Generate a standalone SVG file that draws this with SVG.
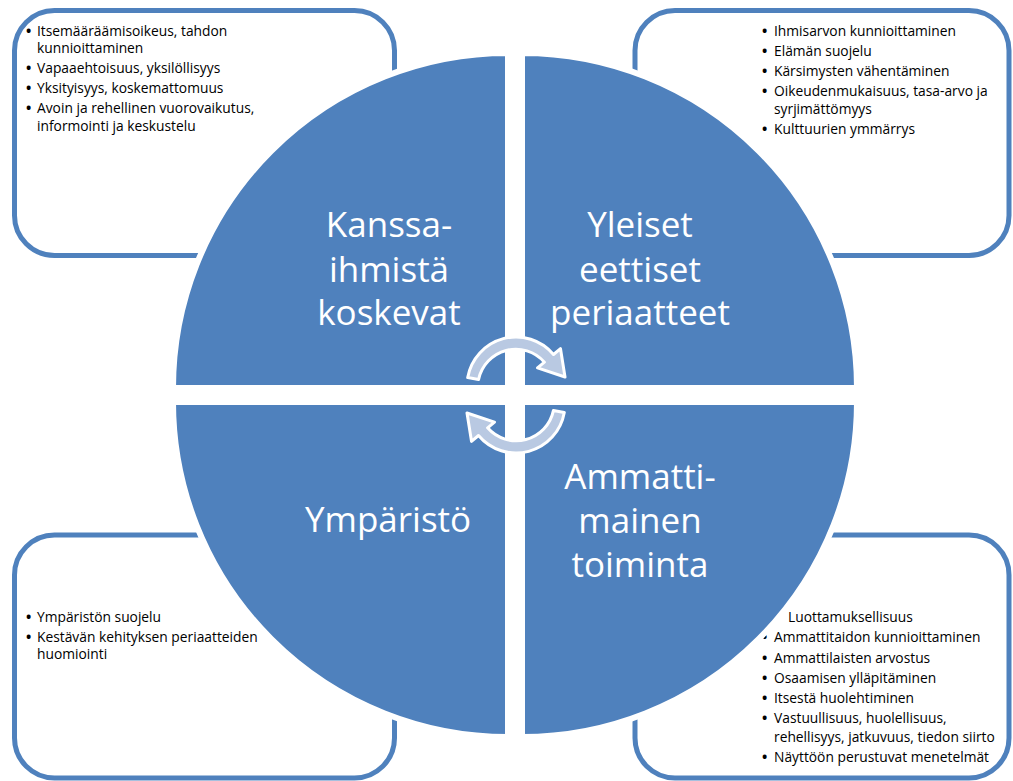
<svg xmlns="http://www.w3.org/2000/svg" width="1013" height="781" viewBox="0 0 1013 781">
<style>
.box{fill:#fff;stroke:#4F81BD;stroke-width:5}
.q{fill:#4F81BD;stroke:#fff;stroke-width:6}
.t{font-family:"Open Sans","Liberation Sans",sans-serif;font-size:13.8px;fill:#000}
.b{font-weight:bold;font-size:14px}
.big{font-family:"Open Sans","Liberation Sans",sans-serif;font-size:35px;fill:#fff;text-anchor:middle}
.arr{fill:#B9C9E2;stroke:#fff;stroke-width:3;stroke-linejoin:round}
</style>
<rect width="1013" height="781" fill="#fff"/>
<g id="box-tl">
<rect class="box" x="14.5" y="10.5" width="380" height="245" rx="40"/>
<text class="t"><tspan class="b" x="26" y="36">•</tspan><tspan x="37" y="36">Itsemääräämisoikeus, tahdon</tspan><tspan x="37" y="53">kunnioittaminen</tspan><tspan class="b" x="26" y="73">•</tspan><tspan x="37" y="73">Vapaaehtoisuus, yksilöllisyys</tspan><tspan class="b" x="26" y="93">•</tspan><tspan x="37" y="93">Yksityisyys, koskemattomuus</tspan><tspan class="b" x="26" y="113">•</tspan><tspan x="37" y="113">Avoin ja rehellinen vuorovaikutus,</tspan><tspan x="37" y="131">informointi ja keskustelu</tspan></text>
</g>
<g id="box-tr">
<rect class="box" x="635" y="10.5" width="374" height="245" rx="40"/>
<text class="t"><tspan class="b" x="762" y="36">•</tspan><tspan x="774" y="36">Ihmisarvon kunnioittaminen</tspan><tspan class="b" x="762" y="56">•</tspan><tspan x="774" y="56">Elämän suojelu</tspan><tspan class="b" x="762" y="76">•</tspan><tspan x="774" y="76">Kärsimysten vähentäminen</tspan><tspan class="b" x="762" y="96">•</tspan><tspan x="774" y="96">Oikeudenmukaisuus, tasa-arvo ja</tspan><tspan x="774" y="114">syrjimättömyys</tspan><tspan class="b" x="762" y="134">•</tspan><tspan x="774" y="134">Kulttuurien ymmärrys</tspan></text>
</g>
<g id="box-bl">
<rect class="box" x="14.5" y="535" width="380" height="243" rx="40"/>
<text class="t"><tspan class="b" x="26" y="622">•</tspan><tspan x="37" y="622">Ympäristön suojelu</tspan><tspan class="b" x="26" y="642">•</tspan><tspan x="37" y="642">Kestävän kehityksen periaatteiden</tspan><tspan x="37" y="659">huomiointi</tspan></text>
</g>
<g id="box-br">
<rect class="box" x="635" y="535" width="374" height="243" rx="40"/>
<text class="t"><tspan x="788" y="622">Luottamuksellisuus</tspan><tspan class="b" x="762" y="642">•</tspan><tspan x="774" y="642">Ammattitaidon kunnioittaminen</tspan><tspan class="b" x="762" y="663">•</tspan><tspan x="774" y="663">Ammattilaisten arvostus</tspan><tspan class="b" x="762" y="683">•</tspan><tspan x="774" y="683">Osaamisen ylläpitäminen</tspan><tspan class="b" x="762" y="703">•</tspan><tspan x="774" y="703">Itsestä  huolehtiminen</tspan><tspan class="b" x="762" y="723">•</tspan><tspan x="774" y="723">Vastuullisuus, huolellisuus,</tspan><tspan x="774" y="742">rehellisyys, jatkuvuus, tiedon siirto</tspan><tspan class="b" x="762" y="762">•</tspan><tspan x="774" y="762">Näyttöön perustuvat menetelmät</tspan></text>
</g>
<g id="q-tl">
<path class="q" d="M508,388 L173,388 A335,335 0 0 1 508,53 Z"/>
<text class="big"><tspan x="389" y="237">Kanssa-</tspan><tspan x="389" y="282">ihmistä</tspan><tspan x="389" y="325">koskevat</tspan></text>
</g>
<g id="q-tr">
<path class="q" d="M522,388 L522,53 A335,335 0 0 1 857,388 Z"/>
<text class="big"><tspan x="640" y="237">Yleiset</tspan><tspan x="640" y="282">eettiset</tspan><tspan x="640" y="325">periaatteet</tspan></text>
</g>
<g id="q-bl">
<path class="q" d="M508,402 L508,737 A335,335 0 0 1 173,402 Z"/>
<text class="big"><tspan x="388" y="532">Ympäristö</tspan></text>
</g>
<g id="q-br">
<path class="q" d="M522,402 L857,402 A335,335 0 0 1 522,737 Z"/>
<text class="big"><tspan x="640" y="489">Ammatti-</tspan><tspan x="640" y="533">mainen</tspan><tspan x="640" y="577">toiminta</tspan></text>
</g>
<g id="connectors">
<path id="arrow-top" class="arr" d="M467.7,377.5 A49,49 0 0 1 553.5,354.5 L560.5,348.7 L565,377 L537.5,367.9 L544.4,362.2 A38,38 0 0 0 478.6,379.4 Z"/>
<path id="arrow-bottom" class="arr" transform="rotate(180 516 395)" d="M467.7,377.5 A49,49 0 0 1 553.5,354.5 L560.5,348.7 L565,377 L537.5,367.9 L544.4,362.2 A38,38 0 0 0 478.6,379.4 Z"/>
</g>
</svg>
